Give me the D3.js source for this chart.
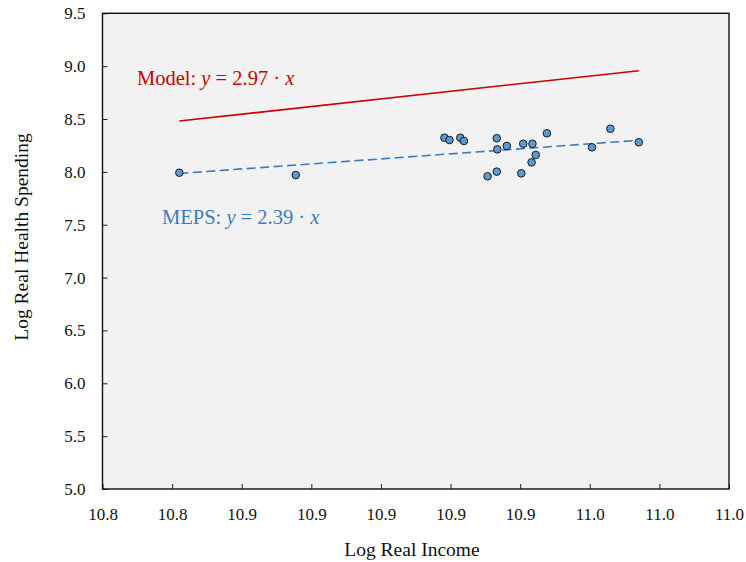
<!DOCTYPE html>
<html>
<head>
<meta charset="utf-8">
<script src="https://cdn.jsdelivr.net/npm/d3@7"></script>
<style>
  html, body { margin: 0; padding: 0; background: #ffffff; }
  svg text { font-family: "Liberation Serif", "DejaVu Serif", serif; }
</style>
</head>
<body>
<svg id="chart" width="746" height="562"></svg>
<script>
// Log real income and log real health spending by group (MEPS)
const logIncome = [10.8276, 10.8694, 10.9228, 10.9246, 10.9285, 10.9298, 10.9416, 10.9418,
                   10.9452, 10.9511, 10.9544, 10.9596, 10.9556, 10.9541, 10.9416, 10.9383,
                   10.9504, 10.9824, 10.9758, 10.9926];
const logSpending = [7.992, 7.970, 8.323, 8.301, 8.323, 8.292, 8.318, 8.213,
                     8.245, 8.266, 8.266, 8.365, 8.160, 8.090, 8.002, 7.958,
                     7.986, 8.408, 8.232, 8.280];

// Fitted lines: endpoints in data units
const modelLineX = [10.8276, 10.9926];
const modelLineY = [8.481, 8.957];
const mepsLineX = [10.8276, 10.9926];
const mepsLineY = [7.985, 8.299];

// Axis ticks and their printed labels
const xTickValues = [10.800, 10.825, 10.850, 10.875, 10.900, 10.925, 10.950, 10.975, 11.000, 11.025];
const xTickLabels = ["10.8", "10.8", "10.9", "10.9", "10.9", "10.9", "10.9", "11.0", "11.0", "11.0"];
const yTickValues = [5.0, 5.5, 6.0, 6.5, 7.0, 7.5, 8.0, 8.5, 9.0, 9.5];
const yTickLabels = ["5.0", "5.5", "6.0", "6.5", "7.0", "7.5", "8.0", "8.5", "9.0", "9.5"];

const xDomain = [10.8, 11.025];
const yDomain = [5.0, 9.5];

const svg = d3.select("#chart");
const plotLeft = 102.5, plotRight = 729, plotTop = 13.3, plotBottom = 489;

const x = d3.scaleLinear().domain(xDomain).range([plotLeft, plotRight]);
const y = d3.scaleLinear().domain(yDomain).range([plotBottom, plotTop]);

// Plot background
svg.append("rect")
  .attr("x", plotLeft).attr("y", plotTop)
  .attr("width", plotRight - plotLeft).attr("height", plotBottom - plotTop)
  .attr("fill", "#f2f2f2");

// Axes with inward ticks
const xAxis = d3.axisBottom(x)
  .tickValues(xTickValues)
  .tickFormat((d, i) => xTickLabels[i])
  .tickSizeInner(-5).tickSizeOuter(0).tickPadding(19);
const gx = svg.append("g").attr("transform", `translate(0,${plotBottom})`).call(xAxis);

const yAxis = d3.axisLeft(y)
  .tickValues(yTickValues)
  .tickFormat((d, i) => yTickLabels[i])
  .tickSizeInner(-5).tickSizeOuter(0).tickPadding(17);
const gy = svg.append("g").attr("transform", `translate(${plotLeft},0)`).call(yAxis);

[gx, gy].forEach(g => {
  g.select(".domain").remove();
  g.selectAll(".tick line").attr("stroke", "#222").attr("stroke-width", 1);
  g.selectAll(".tick text")
    .attr("fill", "#111")
    .style("font-size", "17px");
});

// Plot frame
svg.append("rect")
  .attr("x", plotLeft).attr("y", plotTop)
  .attr("width", plotRight - plotLeft).attr("height", plotBottom - plotTop)
  .attr("fill", "none")
  .attr("stroke", "#111")
  .attr("stroke-width", 1.4);

const line = d3.line().x(d => x(d[0])).y(d => y(d[1]));

// Model line
svg.append("path")
  .datum(d3.zip(modelLineX, modelLineY))
  .attr("d", line)
  .attr("fill", "none")
  .attr("stroke", "#cc0000")
  .attr("stroke-width", 1.6);

// MEPS fitted line
svg.append("path")
  .datum(d3.zip(mepsLineX, mepsLineY))
  .attr("d", line)
  .attr("fill", "none")
  .attr("stroke", "#3a7cc4")
  .attr("stroke-width", 1.6)
  .attr("stroke-dasharray", "9,4.5");

// Data points
svg.append("g")
  .selectAll("circle")
  .data(d3.zip(logIncome, logSpending))
  .join("circle")
  .attr("cx", d => x(d[0]))
  .attr("cy", d => y(d[1]))
  .attr("r", 3.8)
  .attr("fill", "#5b9bd5")
  .attr("stroke", "#1a1a1a")
  .attr("stroke-width", 1);

// Line annotations
function annotate(px, py, name, coef, color) {
  const t = svg.append("text")
    .attr("x", px).attr("y", py)
    .attr("fill", color)
    .style("font-size", "20.5px");
  t.append("tspan").text(name + ": ");
  t.append("tspan").style("font-style", "italic").text("y");
  t.append("tspan").text(" = " + coef + " \u00b7 ");
  t.append("tspan").style("font-style", "italic").text("x");
}
annotate(137, 85, "Model", "2.97", "#cc0000");
annotate(162, 224, "MEPS", "2.39", "#3a7cc4");

// Axis titles
svg.append("text")
  .attr("x", 412).attr("y", 556)
  .attr("text-anchor", "middle")
  .attr("fill", "#111")
  .style("font-size", "19.5px")
  .text("Log Real Income");

svg.append("text")
  .attr("transform", "translate(28,237) rotate(-90)")
  .attr("text-anchor", "middle")
  .attr("fill", "#111")
  .style("font-size", "19.5px")
  .text("Log Real Health Spending");
</script>
</body>
</html>
